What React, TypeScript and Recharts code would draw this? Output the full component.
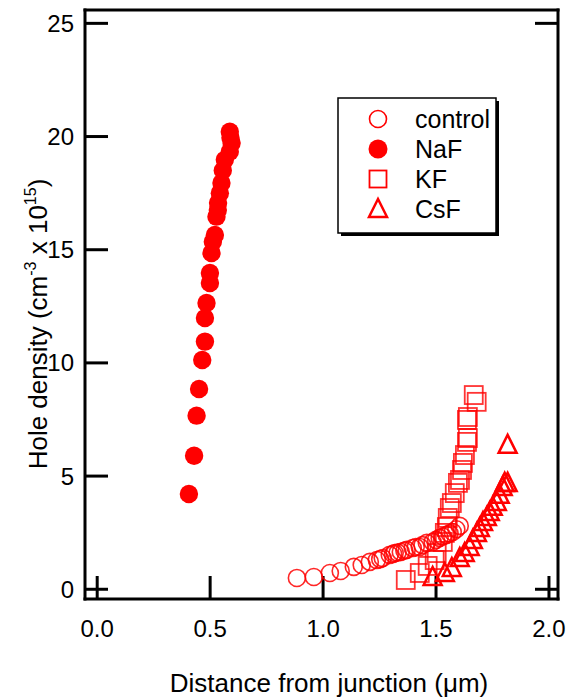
import React from 'react';
import { ScatterChart, Scatter, XAxis, YAxis, Legend, Label } from 'recharts';

const FONT = '"Liberation Sans", Arial, Helvetica, sans-serif';
const RED = '#ff0000';

// control (open circles)
const controlX = [0.884, 0.959, 1.03, 1.078, 1.136, 1.171, 1.207, 1.238, 1.253, 1.264, 1.295, 1.31, 1.317, 1.33, 1.344, 1.36, 1.37, 1.397, 1.41, 1.428, 1.44, 1.459, 1.485, 1.5, 1.516, 1.53, 1.547, 1.56, 1.574, 1.59, 1.605];
const controlY = [0.5, 0.54, 0.72, 0.81, 0.99, 1.07, 1.21, 1.29, 1.33, 1.38, 1.52, 1.56, 1.6, 1.62, 1.65, 1.7, 1.74, 1.82, 1.86, 1.87, 1.95, 2.05, 2.09, 2.18, 2.27, 2.33, 2.4, 2.47, 2.53, 2.65, 2.8];

// NaF (filled circles)
const nafX = [0.406, 0.429, 0.44, 0.451, 0.465, 0.477, 0.477, 0.484, 0.499, 0.499, 0.506, 0.512, 0.521, 0.528, 0.534, 0.535, 0.543, 0.55, 0.556, 0.565, 0.587, 0.595, 0.59, 0.587];
const nafY = [4.21, 5.9, 7.67, 8.85, 10.13, 10.94, 11.98, 12.65, 13.53, 13.97, 14.85, 15.35, 15.65, 16.46, 16.75, 17.06, 17.5, 17.95, 18.5, 18.97, 19.33, 19.71, 19.95, 20.21];

// KF (open squares)
const kfX = [1.366, 1.428, 1.463, 1.494, 1.503, 1.53, 1.539, 1.548, 1.552, 1.561, 1.57, 1.583, 1.597, 1.606, 1.615, 1.619, 1.628, 1.637, 1.641, 1.637, 1.641, 1.667, 1.68];
const kfY = [0.41, 0.72, 1.03, 1.29, 1.6, 2.09, 2.49, 2.75, 3.15, 3.59, 3.81, 4.25, 4.7, 4.83, 5.27, 5.58, 5.93, 6.51, 6.68, 7.48, 7.61, 8.58, 8.28];

// CsF (open triangles)
const csfX = [1.485, 1.539, 1.57, 1.605, 1.627, 1.649, 1.663, 1.681, 1.694, 1.708, 1.725, 1.738, 1.751, 1.769, 1.782, 1.795, 1.804, 1.817, 1.817];
const csfY = [0.54, 0.72, 0.94, 1.38, 1.6, 1.87, 2.18, 2.49, 2.71, 2.97, 3.19, 3.41, 3.64, 3.86, 4.17, 4.52, 4.7, 4.7, 6.38];

const seriesNames = ['control', 'NaF', 'KF', 'CsF'];
const xTicks = [0, 0.5, 1, 1.5, 2];
const yTicks = [0, 5, 10, 15, 20, 25];
const xDomain = [-0.054, 2.04];
const yDomain = [-0.43, 25.59];

const zip = (xs: number[], ys: number[]) => xs.map((x, i) => ({ x, y: ys[i] }));

const OpenCircle = (p: any) => (
  <circle cx={p.cx} cy={p.cy} r={8.5} fill="none" stroke={RED} strokeOpacity={0.85} strokeWidth={1.6} />
);
const FilledCircle = (p: any) => <circle cx={p.cx} cy={p.cy} r={9.2} fill={RED} />;
const OpenSquare = (p: any) => (
  <rect x={p.cx - 9} y={p.cy - 9} width={18} height={18} fill="none" stroke={RED} strokeOpacity={0.8} strokeWidth={1.8} />
);
const OpenTriangle = (p: any) => (
  <polygon
    points={`${p.cx},${p.cy - 10} ${p.cx - 9},${p.cy + 8} ${p.cx + 9},${p.cy + 8}`}
    fill="none"
    stroke={RED}
    strokeWidth={2.5}
  />
);

const legendSymbols = [
  (cx: number, cy: number) => <circle cx={cx} cy={cy} r={8.5} fill="none" stroke={RED} strokeWidth={1.6} />,
  (cx: number, cy: number) => <circle cx={cx} cy={cy} r={9.5} fill={RED} />,
  (cx: number, cy: number) => <rect x={cx - 8.5} y={cy - 8.5} width={17} height={17} fill="none" stroke={RED} strokeWidth={1.8} />,
  (cx: number, cy: number) => (
    <polygon points={`${cx},${cy - 10} ${cx - 9},${cy + 8} ${cx + 9},${cy + 8}`} fill="none" stroke={RED} strokeWidth={2.5} />
  ),
];

const LegendBox = () => (
  <svg width={170} height={150} style={{ display: 'block' }}>
    <rect x={5} y={5} width={158} height={135} fill="#000" />
    <rect x={2} y={2} width={158} height={135} fill="#fff" stroke="#000" strokeWidth={1.5} />
    {seriesNames.map((name, i) => {
      const cy = 23 + i * 30;
      return (
        <g key={name}>
          {legendSymbols[i](42, cy)}
          <text x={79} y={cy} dy="0.36em" fontSize={25} fontFamily={FONT} fill="#000">
            {name}
          </text>
        </g>
      );
    })}
  </svg>
);

const YTitle = () => (
  <text
    x={47}
    y={324}
    transform="rotate(-90, 47, 324)"
    textAnchor="middle"
    fontSize={26}
    fontFamily={FONT}
    fill="#000"
  >
    Hole density (cm
    <tspan dy={-11} fontSize={16}>-3</tspan>
    <tspan dy={11}> x 10</tspan>
    <tspan dy={-11} fontSize={16}>15</tspan>
    <tspan dy={11}>)</tspan>
  </text>
);

const XTitle = () => (
  <text x={329} y={692} textAnchor="middle" fontSize={26} fontFamily={FONT} fill="#000">
    Distance from junction (μm)
  </text>
);

const axisLine = { stroke: '#000', strokeWidth: 3, strokeLinecap: 'square' as const };
const tickLine = { stroke: '#000', strokeWidth: 3 };
const tickStyle = { fill: '#000', fontSize: 24, fontFamily: FONT };
const noLabel = () => '';

export default function App() {
  return (
    <div style={{ position: 'absolute', left: 0, top: 0, width: 567, height: 698, background: '#fff' }}>
      <ScatterChart width={567} height={698} margin={{ top: 9, right: 8, bottom: 59, left: 25 }}>
        <XAxis
          type="number"
          dataKey="x"
          domain={xDomain}
          ticks={xTicks}
          allowDataOverflow
          height={40}
          tickSize={-23}
          tickMargin={44}
          axisLine={axisLine}
          tickLine={tickLine}
          tick={tickStyle}
          tickFormatter={(v: number) => v.toFixed(1)}
        >
          <Label content={<XTitle />} />
        </XAxis>
        <XAxis
          xAxisId="top"
          orientation="top"
          type="number"
          domain={xDomain}
          ticks={[0, 2]}
          allowDataOverflow
          height={1}
          tickSize={-23}
          axisLine={axisLine}
          tickLine={tickLine}
          tick={tickStyle}
          tickFormatter={noLabel}
        />
        <YAxis
          type="number"
          dataKey="y"
          domain={yDomain}
          ticks={yTicks}
          allowDataOverflow
          width={60}
          tickSize={-23}
          tickMargin={34}
          axisLine={axisLine}
          tickLine={tickLine}
          tick={tickStyle}
        >
          <Label content={<YTitle />} />
        </YAxis>
        <YAxis
          yAxisId="right"
          orientation="right"
          type="number"
          domain={yDomain}
          ticks={[0, 25]}
          allowDataOverflow
          width={1}
          tickSize={-23}
          axisLine={axisLine}
          tickLine={tickLine}
          tick={tickStyle}
          tickFormatter={noLabel}
        />
        <Legend
          layout="vertical"
          align="center"
          verticalAlign="middle"
          content={<LegendBox />}
          wrapperStyle={{ left: 336, top: 96, width: 170, height: 150 }}
        />
        <Scatter name={seriesNames[0]} data={zip(controlX, controlY)} shape={OpenCircle} isAnimationActive={false} />
        <Scatter name={seriesNames[1]} data={zip(nafX, nafY)} shape={FilledCircle} isAnimationActive={false} />
        <Scatter name={seriesNames[2]} data={zip(kfX, kfY)} shape={OpenSquare} isAnimationActive={false} />
        <Scatter name={seriesNames[3]} data={zip(csfX, csfY)} shape={OpenTriangle} isAnimationActive={false} />
      </ScatterChart>
    </div>
  );
}
